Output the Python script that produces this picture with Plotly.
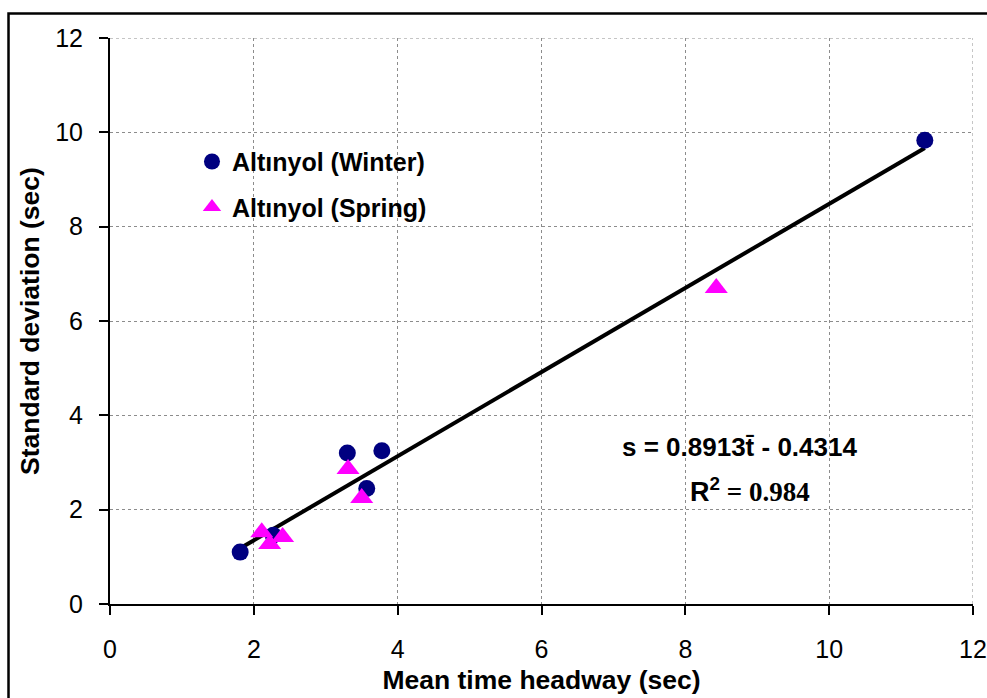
import plotly.graph_objects as go

# ---- data ----
winter_x = [1.81, 2.27, 3.30, 3.57, 3.78, 11.33]
winter_y = [1.10, 1.46, 3.20, 2.45, 3.25, 9.83]
spring_x = [2.11, 2.22, 2.40, 3.31, 3.50, 8.43]
spring_y = [1.52, 1.27, 1.42, 2.86, 2.25, 6.70]
fit_x = [1.81, 11.33]
fit_y = [1.18, 9.67]
tick_vals = [0, 2, 4, 6, 8, 10, 12]

FONT = "Liberation Sans, Arial, sans-serif"

fig = go.Figure()
fig.add_trace(go.Scatter(
    x=fit_x, y=fit_y, mode="lines", line=dict(color="black", width=4),
    showlegend=False, hoverinfo="skip"))
fig.add_trace(go.Scatter(
    x=winter_x, y=winter_y, mode="markers", name="<b>Altınyol (Winter)</b>",
    marker=dict(symbol="circle", size=17, color="#000080"),
    legendgroup="w"))
fig.add_trace(go.Scatter(
    x=spring_x, y=spring_y, mode="markers", name="<b>Altınyol (Spring)</b>",
    marker=dict(symbol="triangle-up", size=20, color="#FF00FF"),
    legendgroup="s"))

axis_common = dict(
    range=[0, 12], tickvals=tick_vals, showline=True, linecolor="black", linewidth=2,
    ticks="outside", ticklen=9, tickwidth=2, tickcolor="black",
    showgrid=True, gridcolor="#8c8c8c", gridwidth=1, griddash="dot",
    zeroline=False, tickfont=dict(family=FONT, size=25, color="black"),
    fixedrange=True,
)

fig.update_layout(
    width=987, height=698,
    margin=dict(l=110, r=14, t=38, b=94, autoexpand=False),
    paper_bgcolor="white", plot_bgcolor="white",
    font=dict(family=FONT, color="black"),
    xaxis=dict(**axis_common, ticklabelstandoff=13,
               title=dict(text="<b>Mean time headway (sec)</b>",
                          font=dict(family=FONT, size=26.5, color="black"), standoff=8)),
    yaxis=dict(**axis_common, ticklabelstandoff=11,
               title=dict(text="<b>Standard deviation (sec)</b>",
                          font=dict(family=FONT, size=26.5, color="black"), standoff=8)),
    legend=dict(x=0.095, y=0.822, xanchor="left", yanchor="top",
                bgcolor="rgba(0,0,0,0)", borderwidth=0,
                font=dict(family=FONT, size=25, color="black"),
                tracegroupgap=10, traceorder="grouped"),
    showlegend=True,
)

# edge grid lines (x=12, y=12) and outer frame
fig.add_shape(type="line", xref="x", yref="y", x0=12, x1=12, y0=0, y1=12,
              line=dict(color="#8c8c8c", width=1, dash="dot"), layer="below")
fig.add_shape(type="line", xref="x", yref="y", x0=0, x1=12, y0=12, y1=12,
              line=dict(color="#8c8c8c", width=1, dash="dot"), layer="below")
fig.add_shape(type="rect", xref="paper", yref="paper",
              x0=-0.1176, x1=1.2, y0=-0.3, y1=1.0433,
              line=dict(color="black", width=2.5), fillcolor="rgba(0,0,0,0)")

fig.add_annotation(
    xref="x", yref="y", x=8.75, y=3.33, showarrow=False,
    text="<b>s = 0.8913t\u0304 - 0.4314</b>",
    font=dict(family=FONT, size=26, color="black"))
fig.add_annotation(
    xref="x", yref="y", x=8.9, y=2.42, showarrow=False,
    text="<b>R<sup>2</sup></b><span style=\"font-family:Liberation Serif\"><b> = 0.984</b></span>",
    font=dict(family=FONT, size=27, color="black"))

fig.write_html("out.html")
